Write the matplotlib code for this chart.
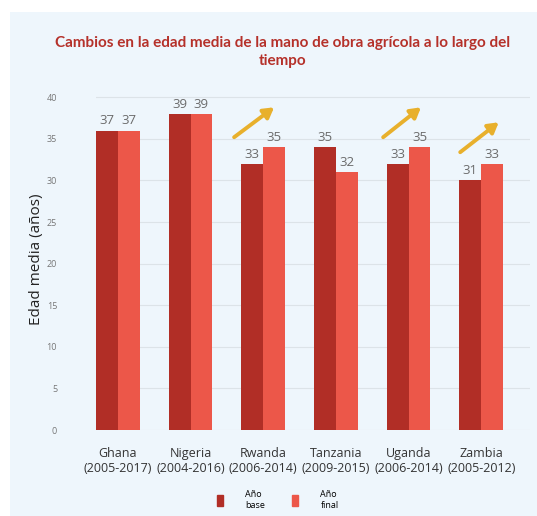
import matplotlib.pyplot as plt
import matplotlib.patches as mpatches
import numpy as np

# Data
countries = ['Ghana\n(2005-2017)', 'Nigeria\n(2004-2016)', 'Rwanda\n(2006-2014)',
             'Tanzania\n(2009-2015)', 'Uganda\n(2006-2014)', 'Zambia\n(2005-2012)']
base_height = [36, 38, 32, 34, 32, 30]
final_height = [36, 38, 34, 31, 34, 32]
base_label = [37, 39, 33, 35, 33, 31]
final_label = [37, 39, 35, 32, 35, 33]
# arrows marking an increase (x0, y0, x1, y1)
arrows = [(1.6, 35.2, 2.15, 38.8), (3.65, 35.2, 4.17, 38.8), (4.71, 33.4, 5.24, 37.0)]

colors = {'base': '#b12e26', 'final': '#ec5749'}
bg = '#eef6fc'
plt.rcParams['font.family'] = ['Open Sans', 'DejaVu Sans']

fig = plt.figure(figsize=(5.37, 5.16), dpi=100)
fig.patches.append(mpatches.Rectangle((10 / 537, 0), 1, 1 - 12 / 516, transform=fig.transFigure,
                                      facecolor=bg, edgecolor='none', zorder=-10))

ax = fig.add_axes([96 / 537, 86 / 516, 434 / 537, 341 / 516])
ax.set_facecolor(bg)
ax.patch.set_alpha(0)

x = np.arange(len(countries))
w = 0.3
b1 = ax.bar(x - w / 2, base_height, w, color=colors['base'], zorder=2)
b2 = ax.bar(x + w / 2, final_height, w, color=colors['final'], zorder=2)

for bars, labs in [(b1, base_label), (b2, final_label)]:
    for bar, val in zip(bars, labs):
        ax.text(bar.get_x() + bar.get_width() / 2, bar.get_height() + 0.4, f'{val}',
                ha='center', va='bottom', fontsize=9.5, color='#6b6b6b')

for x0, y0, x1, y1 in arrows:
    ax.annotate('', xy=(x1, y1), xytext=(x0, y0),
                arrowprops=dict(arrowstyle='-|>,head_length=0.6,head_width=0.35',
                                color='#e8b02c', lw=2.8, shrinkA=0, shrinkB=0))

ax.set_xlim(-0.3, 5.67)
ax.set_ylim(0, 41)
ax.set_yticks(range(0, 41, 5))
ax.yaxis.grid(True, color='#dce3e8', linewidth=0.8, zorder=0)
ax.set_axisbelow(True)
for s in ax.spines.values():
    s.set_visible(False)
ax.tick_params(axis='y', length=0, pad=28, labelsize=6.5, labelcolor='#777777')
ax.tick_params(axis='x', length=0, pad=12, labelsize=9, labelcolor='#333333')
ax.set_xticks(x)
ax.set_xticklabels(countries)
ax.set_ylabel('Edad media (años)', fontsize=11, color='#222222', labelpad=2)

fig.text(283 / 537, 1 - 52 / 516,
         'Cambios en la edad media de la mano de obra agrícola a lo largo del\ntiempo',
         ha='center', va='center', fontsize=11, fontweight='bold', color='#b5312a',
         linespacing=1.45, family=['Lato', 'DejaVu Sans'])

handles = [mpatches.Patch(color=colors['base'], label='Año\nbase'),
           mpatches.Patch(color=colors['final'], label='Año\nfinal')]
fig.legend(handles=handles, loc='center', bbox_to_anchor=(278 / 537, 1 - 500 / 516), ncol=2,
           fontsize=6.5, frameon=False, handlelength=0.6, handleheight=1.6,
           columnspacing=3, handletextpad=2.5)

plt.savefig('out.png', dpi=100, facecolor='white')
